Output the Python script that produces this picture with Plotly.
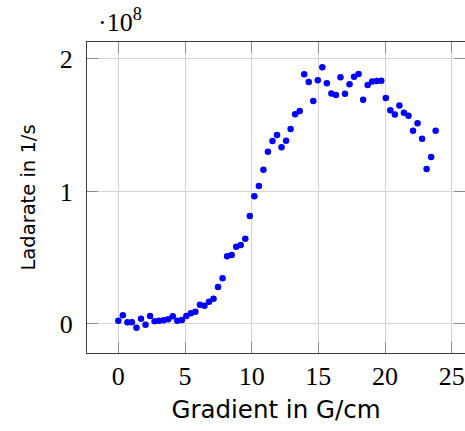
import plotly.graph_objects as go

# Gradient steps in G/cm
gradient = [
    0.00, 0.34, 0.68, 1.02, 1.36, 1.70, 2.04, 2.38, 2.72, 3.06,
    3.40, 3.74, 4.08, 4.42, 4.76, 5.10, 5.44, 5.78, 6.12, 6.46,
    6.80, 7.14, 7.48, 7.82, 8.16, 8.50, 8.84, 9.18, 9.52, 9.86,
    10.20, 10.54, 10.88, 11.22, 11.56, 11.90, 12.24, 12.58, 12.92, 13.26,
    13.60, 13.94, 14.28, 14.62, 14.96, 15.30, 15.64, 15.98, 16.32, 16.66,
    17.00, 17.34, 17.68, 18.02, 18.36, 18.70, 19.04, 19.38, 19.72, 20.06,
    20.40, 20.74, 21.08, 21.42, 21.76, 22.10, 22.44, 22.78, 23.12, 23.46,
    23.80,
]

# Loading rate in units of 1e8 1/s
rate_e8 = [
    0.025, 0.066, 0.013, 0.013, -0.028, 0.040, -0.005, 0.060, 0.020, 0.025,
    0.028, 0.035, 0.058, 0.025, 0.030, 0.060, 0.081, 0.093, 0.146, 0.138,
    0.168, 0.191, 0.279, 0.345, 0.511, 0.521, 0.583, 0.596, 0.644, 0.814,
    0.964, 1.042, 1.164, 1.300, 1.381, 1.426, 1.334, 1.383, 1.472, 1.583,
    1.608, 1.885, 1.826, 1.683, 1.839, 1.937, 1.817, 1.740, 1.728, 1.862,
    1.738, 1.809, 1.866, 1.887, 1.693, 1.804, 1.829, 1.834, 1.836, 1.706,
    1.613, 1.580, 1.648, 1.595, 1.572, 1.459, 1.515, 1.398, 1.170, 1.260,
    1.459,
]
rate = [v * 1e8 for v in rate_e8]

x_ticks = [0, 5, 10, 15, 20, 25]
y_ticks = [0, 1e8, 2e8]
y_tick_text = ["0", "1", "2"]

SERIF = "Liberation Serif"
SANS = "DejaVu Sans"
FRAME = "#3a3a3a"
TICK = "#8c8c8c"
GRID = "#d4d4d4"

fig = go.Figure()
fig.add_trace(go.Scatter(
    x=gradient, y=rate, mode="markers",
    marker=dict(color="#0000ff", size=6.5, line=dict(width=0)),
    showlegend=False,
))
# invisible trace carrying the right-hand tick marks
fig.add_trace(go.Scatter(x=[None], y=[None], yaxis="y2", showlegend=False))

fig.update_layout(
    width=465, height=431,
    margin=dict(l=87, r=0, t=42, b=78),
    paper_bgcolor="white", plot_bgcolor="white",
    xaxis=dict(
        range=[-2.35, 26.0],
        tickvals=x_ticks,
        ticks="inside", ticklen=11, tickcolor=TICK, tickwidth=1,
        showgrid=True, gridcolor=GRID, gridwidth=1,
        showline=True, linecolor=FRAME, linewidth=1.2, mirror="ticks",
        zeroline=False,
        tickfont=dict(family=SERIF, size=26, color="black"),
        title=dict(text="Gradient in G/cm", font=dict(family=SANS, size=24.5, color="black"), standoff=10),
    ),
    yaxis=dict(
        range=[-0.219e8, 2.128e8],
        tickvals=y_ticks, ticktext=y_tick_text,
        ticks="inside", ticklen=11, tickcolor=TICK, tickwidth=1,
        showgrid=True, gridcolor=GRID, gridwidth=1,
        showline=True, linecolor=FRAME, linewidth=1.2,
        zeroline=False,
        ticklabelstandoff=8,
        tickfont=dict(family=SERIF, size=26, color="black"),
        title=dict(text="Ladarate in 1/s", font=dict(family=SANS, size=19.5, color="black"), standoff=18),
    ),
    yaxis2=dict(
        overlaying="y", side="right",
        range=[-0.219e8, 2.128e8],
        tickvals=y_ticks, showticklabels=False,
        ticks="inside", ticklen=11, tickcolor=TICK, tickwidth=1,
        showgrid=False, showline=False, zeroline=False,
    ),
    annotations=[dict(
        text="·10<sup>8</sup>", xref="paper", yref="paper",
        x=0.025, y=1.0, xanchor="left", yanchor="bottom", yshift=3,
        showarrow=False, font=dict(family=SERIF, size=26, color="black"),
    )],
)

fig.write_html("out.html")
